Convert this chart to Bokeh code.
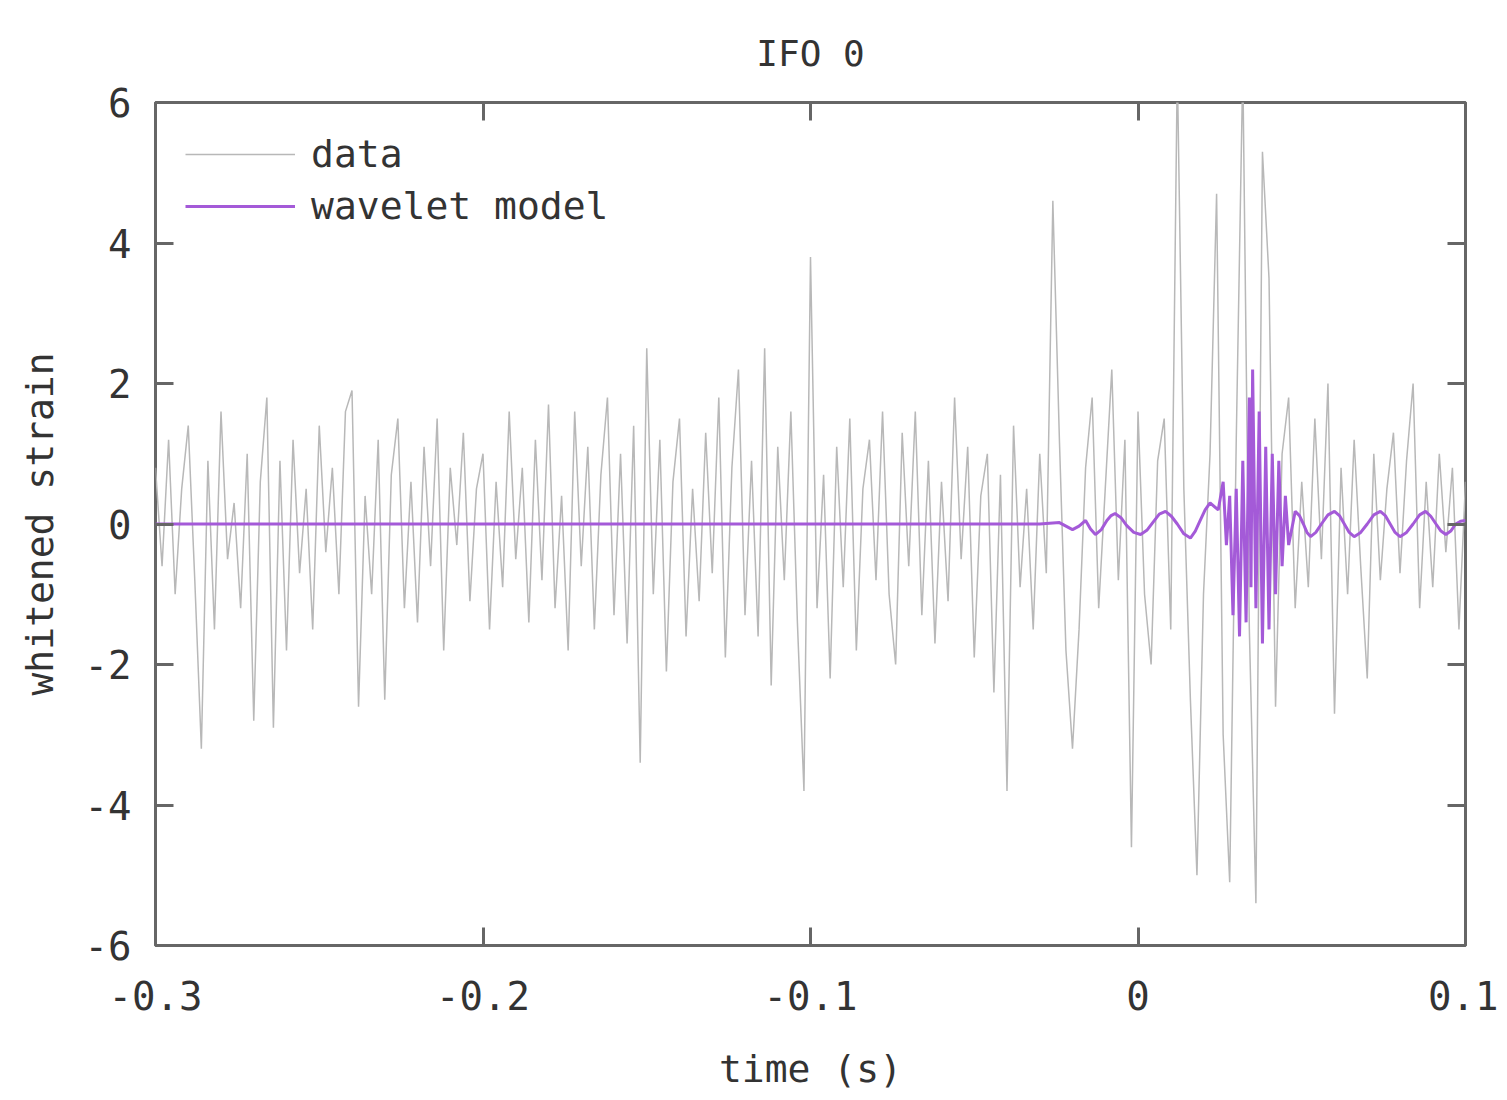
from bokeh.plotting import figure
from bokeh.models import LinearAxis, Range1d, Legend, LegendItem, FixedTicker, Title
from bokeh.embed import file_html
from bokeh.resources import INLINE

# ---------------- data ----------------
t_start = -0.3
t_step = 0.002
data_y = [
    0.8, -0.6, 1.2, -1.0, 0.5, 1.4, -0.8, -3.2, 0.9, -1.5,
    1.6, -0.5, 0.3, -1.2, 1.0, -2.8, 0.6, 1.8, -2.9, 0.9,
    -1.8, 1.2, -0.7, 0.5, -1.5, 1.4, -0.4, 0.8, -1.0, 1.6,
    1.9, -2.6, 0.4, -1.0, 1.2, -2.5, 0.7, 1.5, -1.2, 0.6,
    -1.4, 1.1, -0.6, 1.5, -1.8, 0.8, -0.3, 1.3, -1.1, 0.5,
    1.0, -1.5, 0.6, -0.9, 1.6, -0.5, 0.8, -1.4, 1.2, -0.8,
    1.7, -1.2, 0.4, -1.8, 1.6, -0.6, 1.1, -1.5, 0.7, 1.8,
    -1.3, 1.0, -1.7, 1.4, -3.4, 2.5, -1.0, 1.2, -2.1, 0.6,
    1.5, -1.6, 0.5, -1.1, 1.3, -0.7, 1.8, -1.9, 0.8, 2.2,
    -1.3, 0.9, -1.6, 2.5, -2.3, 1.1, -0.8, 1.6, -1.4, -3.8,
    3.8, -1.2, 0.7, -2.2, 1.1, -0.9, 1.5, -1.8, 0.5, 1.2,
    -0.8, 1.6, -1.0, -2.0, 1.3, -0.6, 1.6, -1.3, 0.9, -1.7,
    0.6, -1.1, 1.8, -0.5, 1.1, -1.9, 0.4, 1.0, -2.4, 0.7,
    -3.8, 1.4, -0.9, 0.5, -1.5, 1.0, -0.7, 4.6, 1.2, -1.8,
    -3.2, -1.5, 0.8, 1.8, -1.2, 0.5, 2.2, -0.8, 1.2, -4.6,
    1.6, -1.0, -2.0, 0.9, 1.5, -1.5, 6.5, 0.5, -2.5, -5.0,
    -1.0, 1.0, 4.7, -3.0, -5.1, 1.2, 6.5, -1.5, -5.4, 5.3,
    3.5, -2.6, 1.0, 1.8, -1.2, 0.6, -0.9, 1.5, -0.5, 2.0,
    -2.7, 0.8, -1.0, 1.2, -0.6, -2.2, 1.0, -0.8, 0.5, 1.3,
    -0.7, 0.9, 2.0, -1.2, 0.6, -0.9, 1.0, -0.4, 0.8, -1.5,
    0.6,
]
data_t = [round(t_start + i * t_step, 4) for i in range(len(data_y))]

model_t = [-0.300, -0.030, -0.024, -0.022, -0.020, -0.018, -0.016, -0.0145,
           -0.013, -0.0112, -0.0095, -0.0082, -0.007, -0.0052, -0.0035,
           -0.0013, 0.0008, 0.0027, 0.0045, 0.0065, 0.0084, 0.0102, 0.012,
           0.014, 0.016, 0.0175, 0.019, 0.0205, 0.022,
           0.0245, 0.026, 0.027, 0.028, 0.029, 0.030, 0.031, 0.032, 0.033,
           0.034, 0.0345, 0.035, 0.036, 0.037, 0.038, 0.039, 0.040, 0.041,
           0.042, 0.043, 0.044, 0.045, 0.046, 0.048, 0.0493, 0.0505, 0.0516,
           0.0527, 0.0543, 0.056, 0.058, 0.060, 0.0615, 0.063, 0.0645, 0.066,
           0.068, 0.070, 0.072, 0.074, 0.0755, 0.077, 0.0785, 0.080, 0.082,
           0.084, 0.086, 0.0878, 0.0894, 0.091, 0.0925, 0.094, 0.0955, 0.097,
           0.0985, 0.100]
model_y = [0.0, 0.0, 0.02, -0.03, -0.08, -0.03, 0.05, -0.07,
           -0.15, -0.08, 0.05, 0.12, 0.15, 0.09, -0.02,
           -0.12, -0.15, -0.09, 0.02, 0.14, 0.18, 0.11, 0.0,
           -0.14, -0.2, -0.1, 0.05, 0.2, 0.3,
           0.2, 0.6, -0.3, 0.4, -1.3, 0.5, -1.6, 0.9, -1.4,
           1.8, -0.9, 2.2, -1.2, 1.6, -1.7, 1.1, -1.5, 1.0,
           -1.0, 0.9, -0.6, 0.4, -0.3, 0.18, 0.12, 0.0, -0.12,
           -0.18, -0.12, 0.0, 0.13, 0.18, 0.12, 0.0, -0.12, -0.18,
           -0.12, 0.0, 0.13, 0.18, 0.12, 0.0, -0.12, -0.18, -0.12,
           0.0, 0.13, 0.18, 0.11, 0.0, -0.1, -0.15, -0.1, 0.0,
           0.04, 0.05]

x_ticks = [-0.3, -0.2, -0.1, 0.0, 0.1]
x_tick_labels = {-0.3: "-0.3", -0.2: "-0.2", -0.1: "-0.1", 0.0: "0", 0.1: "0.1"}
y_ticks = [-6, -4, -2, 0, 2, 4, 6]
y_tick_labels = {-6: "-6", -4: "-4", -2: "-2", 0: "0", 2: "2", 4: "4", 6: "6"}

title_text = "IFO 0"
x_label = "time (s)"
y_label = "whitened strain"

FONT = "DejaVu Sans Mono"
TXT = "#333333"
FRAME = "#666666"
FS_T = "36px"
FS_TICK = "39px"
FS_LAB = "38px"

p = figure(width=1498, height=1093, output_backend="svg", toolbar_location=None,
           x_range=Range1d(-0.3, 0.1), y_range=Range1d(-6, 6),
           min_border_left=155, min_border_right=33, min_border_top=102,
           min_border_bottom=148, x_axis_type=None, y_axis_type=None)
p.grid.visible = False
p.outline_line_color = FRAME
p.outline_line_width = 3
p.background_fill_color = "white"
p.border_fill_color = "white"


def mk_axis(ticks, labels=True, overrides=None, axis_label=None):
    ax = LinearAxis(ticker=FixedTicker(ticks=ticks))
    ax.axis_line_color = None
    ax.major_tick_in = 18
    ax.major_tick_out = 0
    ax.major_tick_line_color = FRAME
    ax.major_tick_line_width = 3
    ax.minor_tick_line_color = None
    if labels:
        ax.major_label_text_font = FONT
        ax.major_label_text_font_size = FS_TICK
        ax.major_label_text_color = TXT
        if overrides:
            ax.major_label_overrides = overrides
    else:
        ax.major_label_text_font_size = "0px"
        ax.major_label_text_alpha = 0
        ax.major_label_standoff = 0
    if axis_label:
        ax.axis_label = axis_label
        ax.axis_label_text_font = FONT
        ax.axis_label_text_font_size = FS_LAB
        ax.axis_label_text_font_style = "normal"
        ax.axis_label_text_color = TXT
    return ax


xt = mk_axis(x_ticks, False)
p.add_layout(xt, "above")

t = Title(text=title_text, align="center", text_font=FONT, text_font_size=FS_T,
          text_font_style="normal", text_color=TXT, standoff=57)
p.add_layout(t, "above")

xb = mk_axis(x_ticks, True, x_tick_labels, x_label)
xb.major_label_standoff = 35
xb.axis_label_standoff = 34
p.add_layout(xb, "below")

yl = mk_axis(y_ticks, True, y_tick_labels, y_label)
yl.major_label_standoff = 24
yl.axis_label_standoff = 20
p.add_layout(yl, "left")
yr = mk_axis(y_ticks, False)
p.add_layout(yr, "right")

r_data = p.line(data_t, data_y, line_color="#b8b8b8", line_width=1.5)
r_model = p.line(model_t, model_y, line_color="#a45ad8", line_width=3)

legend = Legend(items=[LegendItem(label="data", renderers=[r_data]),
                       LegendItem(label="wavelet model", renderers=[r_model])],
                location="top_left", border_line_color=None,
                background_fill_alpha=0, label_text_font=FONT,
                label_text_font_size=FS_LAB, label_text_color=TXT,
                glyph_width=110, glyph_height=30, spacing=8,
                margin=30, padding=0, label_standoff=16)
p.add_layout(legend)

open("out.html", "w").write(file_html(p, INLINE))
